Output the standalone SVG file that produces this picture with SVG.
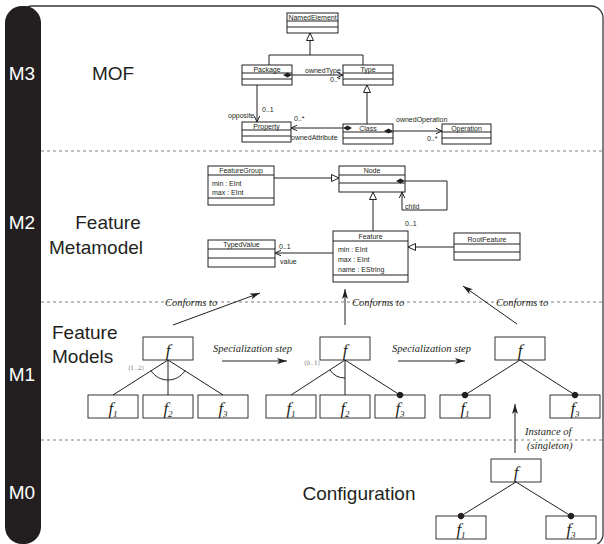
<svg xmlns="http://www.w3.org/2000/svg" width="604" height="544" viewBox="0 0 604 544">
<style>
.frame{fill:none;stroke:#3a3a3a;stroke-width:1.3}
.bar{fill:#231f20}
.lvl{font-family:"Liberation Sans",Arial,sans-serif;font-size:19px;fill:#fff}
.title{font-family:"Liberation Sans",Arial,sans-serif;font-size:19px;fill:#231f20}
.sep{stroke:#aaa;stroke-width:1.3;stroke-dasharray:3,3;fill:none}
.uml rect{fill:#fff;stroke:#231f20;stroke-width:1}
.uml line{stroke:#231f20;stroke-width:1}
.ut{font-family:"Liberation Sans",Arial,sans-serif;font-size:7px;fill:#231f20}
.c{text-anchor:middle}
.con{fill:none;stroke:#231f20;stroke-width:1}
.fm rect{fill:#fff;stroke:#231f20;stroke-width:0.9}
.ft{font-family:"Liberation Serif","Times New Roman",serif;font-style:italic;font-size:17px;fill:#231f20;text-anchor:middle}
.sub{font-size:9px}
.it{font-family:"Liberation Serif","Times New Roman",serif;font-style:italic;font-size:10.5px;fill:#231f20}
.card{font-family:"DejaVu Serif","Liberation Serif",serif;font-size:6px;fill:#777}
</style>
<defs>
<marker id="tri" markerUnits="userSpaceOnUse" markerWidth="10" markerHeight="10" refX="8" refY="4" orient="auto" viewBox="0 0 10 8">
<path d="M0.5,0.5 L8,4 L0.5,7.5 Z" fill="#fff" stroke="#231f20" stroke-width="1"/>
</marker>
<marker id="open" markerUnits="userSpaceOnUse" markerWidth="8" markerHeight="8" refX="6" refY="3" orient="auto" viewBox="0 0 8 6">
<path d="M0,0.3 L6,3 L0,5.7" fill="none" stroke="#231f20" stroke-width="1"/>
</marker>
<marker id="dia" markerUnits="userSpaceOnUse" markerWidth="12" markerHeight="8" refX="0.5" refY="3" orient="auto-start-reverse" viewBox="0 0 12 6">
<path d="M0.5,3 L5,0.5 L9.5,3 L5,5.5 Z" fill="#231f20"/>
</marker>
<marker id="arr" markerUnits="userSpaceOnUse" markerWidth="12" markerHeight="8" refX="10" refY="3" orient="auto" viewBox="0 0 12 6">
<path d="M0,0 L10,3 L0,6 L2.5,3 Z" fill="#231f20"/>
</marker>
<marker id="dot" markerUnits="userSpaceOnUse" markerWidth="8" markerHeight="8" refX="4" refY="4" orient="auto" viewBox="0 0 8 8">
<circle cx="4" cy="4" r="3.2" fill="#231f20"/>
</marker>
</defs>

<!-- frame and level bar -->
<rect class="frame" x="20" y="6" width="583" height="540" rx="12"/>
<rect class="bar" x="5" y="6" width="36" height="538" rx="17"/>
<text class="lvl" x="22" y="80" text-anchor="middle">M3</text>
<text class="lvl" x="22" y="229" text-anchor="middle">M2</text>
<text class="lvl" x="22" y="381" text-anchor="middle">M1</text>
<text class="lvl" x="22" y="499" text-anchor="middle">M0</text>

<line class="sep" x1="41" y1="151" x2="604" y2="151"/>
<line class="sep" x1="41" y1="302" x2="604" y2="302"/>
<line class="sep" x1="41" y1="440" x2="604" y2="440"/>

<text class="title" x="113" y="80" text-anchor="middle">MOF</text>
<text class="title" x="108" y="229" text-anchor="middle">Feature</text>
<text class="title" x="96" y="254" text-anchor="middle">Metamodel</text>
<text class="title" x="52" y="339">Feature</text>
<text class="title" x="52" y="363">Models</text>
<text class="title" x="359" y="500" text-anchor="middle">Configuration</text>

<!-- MOF nodes -->
<g id="NamedElement" class="uml"><rect x="287" y="13" width="51" height="20"/><line x1="287" y1="21" x2="338" y2="21"/><line x1="287" y1="27" x2="338" y2="27"/><text class="ut c" x="312.5" y="19.5">NamedElement</text></g>
<g id="Package" class="uml"><rect x="242" y="65" width="50" height="20"/><line x1="242" y1="73" x2="292" y2="73"/><line x1="242" y1="79" x2="292" y2="79"/><text class="ut c" x="267" y="71.5">Package</text></g>
<g id="Type" class="uml"><rect x="343" y="65" width="50" height="20"/><line x1="343" y1="73" x2="393" y2="73"/><line x1="343" y1="79" x2="393" y2="79"/><text class="ut c" x="368" y="71.5">Type</text></g>
<g id="Property" class="uml"><rect x="242" y="122" width="49" height="20"/><line x1="242" y1="130" x2="291" y2="130"/><line x1="242" y1="136" x2="291" y2="136"/><text class="ut c" x="266.5" y="128.5">Property</text></g>
<g id="Class" class="uml"><rect x="343" y="124" width="50" height="20"/><line x1="343" y1="132" x2="393" y2="132"/><line x1="343" y1="138" x2="393" y2="138"/><text class="ut c" x="368" y="130.5">Class</text></g>
<g id="Operation" class="uml"><rect x="442" y="124" width="49" height="20"/><line x1="442" y1="132" x2="491" y2="132"/><line x1="442" y1="138" x2="491" y2="138"/><text class="ut c" x="466.5" y="130.5">Operation</text></g>

<!-- M2 nodes -->
<g id="FeatureGroup" class="uml"><rect x="208" y="166" width="66" height="39"/><line x1="208" y1="175" x2="274" y2="175"/><line x1="208" y1="198" x2="274" y2="198"/><text class="ut c" x="241" y="173">FeatureGroup</text><text class="ut" x="212" y="185.5">min : EInt</text><text class="ut" x="212" y="195">max : EInt</text></g>
<g id="Node" class="uml"><rect x="339" y="166" width="66" height="26"/><line x1="339" y1="175" x2="405" y2="175"/><line x1="339" y1="183" x2="405" y2="183"/><text class="ut c" x="372" y="173">Node</text></g>
<g id="Feature" class="uml"><rect x="333" y="231" width="75" height="51"/><line x1="333" y1="241" x2="408" y2="241"/><line x1="333" y1="275" x2="408" y2="275"/><text class="ut c" x="370.5" y="238.5">Feature</text><text class="ut" x="338" y="251.5">min : EInt</text><text class="ut" x="338" y="261.5">max : EInt</text><text class="ut" x="338" y="271.5">name : EString</text></g>
<g id="TypedValue" class="uml"><rect x="208" y="240" width="67" height="27"/><line x1="208" y1="249" x2="275" y2="249"/><line x1="208" y1="258" x2="275" y2="258"/><text class="ut c" x="241.5" y="247">TypedValue</text></g>
<g id="RootFeature" class="uml"><rect x="454" y="233" width="66" height="27"/><line x1="454" y1="244" x2="520" y2="244"/><line x1="454" y1="252" x2="520" y2="252"/><text class="ut c" x="487" y="241.5">RootFeature</text></g>

<!-- M1 feature models -->
<g id="fm1-root" class="fm"><rect x="143" y="337" width="50" height="23"/><text class="ft" x="168" y="356">f</text></g>
<g id="fm1-f1" class="fm"><rect x="88" y="395" width="50" height="23"/><text class="ft" x="113" y="414">f<tspan class="sub" dy="3">1</tspan></text></g>
<g id="fm1-f2" class="fm"><rect x="143" y="395" width="50" height="23"/><text class="ft" x="168" y="414">f<tspan class="sub" dy="3">2</tspan></text></g>
<g id="fm1-f3" class="fm"><rect x="198" y="395" width="50" height="23"/><text class="ft" x="223" y="414">f<tspan class="sub" dy="3">3</tspan></text></g>

<g id="fm2-root" class="fm"><rect x="320" y="337" width="50" height="23"/><text class="ft" x="345" y="356">f</text></g>
<g id="fm2-f1" class="fm"><rect x="266" y="395" width="50" height="23"/><text class="ft" x="291" y="414">f<tspan class="sub" dy="3">1</tspan></text></g>
<g id="fm2-f2" class="fm"><rect x="320" y="395" width="50" height="23"/><text class="ft" x="345" y="414">f<tspan class="sub" dy="3">2</tspan></text></g>
<g id="fm2-f3" class="fm"><rect x="375" y="395" width="50" height="23"/><text class="ft" x="400" y="414">f<tspan class="sub" dy="3">3</tspan></text></g>

<g id="fm3-root" class="fm"><rect x="495" y="337" width="50" height="23"/><text class="ft" x="520" y="356">f</text></g>
<g id="fm3-f1" class="fm"><rect x="440" y="395" width="50" height="23"/><text class="ft" x="465" y="414">f<tspan class="sub" dy="3">1</tspan></text></g>
<g id="fm3-f3" class="fm"><rect x="550" y="395" width="50" height="23"/><text class="ft" x="575" y="414">f<tspan class="sub" dy="3">3</tspan></text></g>

<!-- M0 configuration -->
<g id="cfg-root" class="fm"><rect x="491" y="459" width="50" height="23"/><text class="ft" x="516" y="478">f</text></g>
<g id="cfg-f1" class="fm"><rect x="436" y="516" width="50" height="23"/><text class="ft" x="461" y="535">f<tspan class="sub" dy="3">1</tspan></text></g>
<g id="cfg-f3" class="fm"><rect x="546" y="516" width="50" height="23"/><text class="ft" x="571" y="535">f<tspan class="sub" dy="3">3</tspan></text></g>

<!-- connectors -->
<g id="connectors">
<!-- MOF -->
<path class="con" d="M269,65 V55 H363 V65"/>
<path class="con" d="M310,55 V33" marker-end="url(#tri)"/>
<path class="con" d="M367,124 V85" marker-end="url(#tri)"/>
<path class="con" d="M292,75 H343" marker-start="url(#dia)" marker-end="url(#open)"/>
<path class="con" d="M257,85 V122" marker-end="url(#open)"/>
<path class="con" d="M343,128 H291" marker-start="url(#dia)" marker-end="url(#open)"/>
<path class="con" d="M393,131 H442" marker-start="url(#dia)" marker-end="url(#open)"/>
<text class="ut" x="305" y="73">ownedType</text>
<text class="ut" x="330" y="82">0..*</text>
<text class="ut" x="262" y="112">0..1</text>
<text class="ut" x="228" y="118">opposite</text>
<text class="ut" x="294" y="121">0..*</text>
<text class="ut" x="291" y="140">ownedAttribute</text>
<text class="ut" x="396" y="122">ownedOperation</text>
<text class="ut" x="427" y="141">0..*</text>
<!-- M2 -->
<path class="con" d="M274,178 H339" marker-end="url(#tri)"/>
<path class="con" d="M405,181 H447 V210 H402 V192" marker-start="url(#dia)" marker-end="url(#open)"/>
<path class="con" d="M373,231 V192" marker-end="url(#tri)"/>
<path class="con" d="M333,253 H275" marker-end="url(#open)"/>
<path class="con" d="M454,247 H408" marker-end="url(#tri)"/>
<text class="ut" x="405" y="208.5">child</text>
<text class="ut" x="405" y="226">0..1</text>
<text class="ut" x="279" y="249">0..1</text>
<text class="ut" x="280" y="264">value</text>
<!-- M1 tree edges -->
<path class="con" d="M168,360 L113,395 M168,360 V395 M168,360 L223,395"/>
<path class="con" d="M151.1,370.7 A20,20 0 0,0 184.9,370.7"/>
<text class="card" x="128" y="370">⟨1..2⟩</text>
<path class="con" d="M345,360 L291,395 M345,360 V395"/>
<path class="con" d="M345,360 L400,395" marker-end="url(#dot)"/>
<path class="con" d="M329.9,369.8 A18,18 0 0,0 345,378"/>
<text class="card" x="304" y="365">⟨0..1⟩</text>
<path class="con" d="M520,360 L465,395" marker-end="url(#dot)"/>
<path class="con" d="M520,360 L575,395" marker-end="url(#dot)"/>
<path class="con" d="M516,482 L461,516" marker-end="url(#dot)"/>
<path class="con" d="M516,482 L571,516" marker-end="url(#dot)"/>
<!-- level relations -->
<path class="con" d="M173,325 L260,293" marker-end="url(#arr)"/>
<path class="con" d="M345,325 V289" marker-end="url(#arr)"/>
<path class="con" d="M517,324 L463,286" marker-end="url(#arr)"/>
<path class="con" d="M222,361 H287" marker-end="url(#arr)"/>
<path class="con" d="M398,361 H465" marker-end="url(#arr)"/>
<path class="con" d="M515,453 V404" marker-end="url(#arr)"/>
<text class="it" x="165" y="306">Conforms to</text>
<text class="it" x="352" y="306">Conforms to</text>
<text class="it" x="496" y="306">Conforms to</text>
<text class="it" x="213" y="352">Specialization step</text>
<text class="it" x="392" y="352">Specialization step</text>
<text class="it" x="525" y="435">Instance of</text>
<text class="it" x="527" y="449">(singleton)</text>
</g>
</svg>
